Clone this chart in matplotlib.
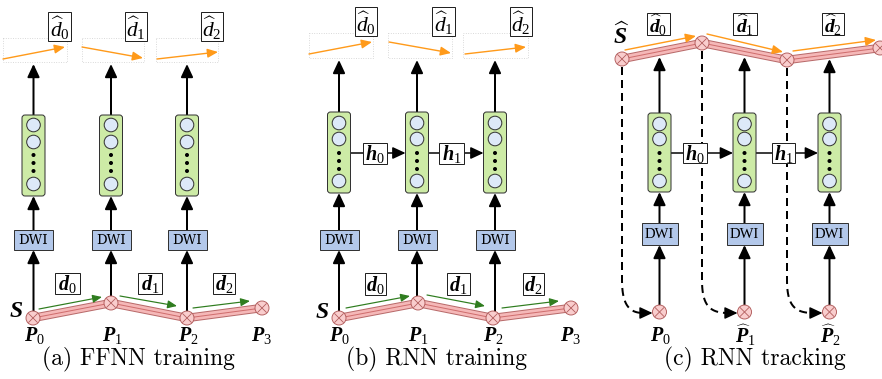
import matplotlib
matplotlib.use("Agg")
import matplotlib.pyplot as plt
from matplotlib.patches import Rectangle, FancyBboxPatch, Circle
import numpy as np

plt.rcParams['mathtext.fontset'] = 'custom'
plt.rcParams['mathtext.rm'] = 'Liberation Serif'
plt.rcParams['mathtext.it'] = 'Liberation Serif:italic'
plt.rcParams['mathtext.bf'] = 'Liberation Serif:bold:italic'

# ---------------- data / labels ----------------
captions = ["(a) FFNN training", "(b) RNN training", "(c) RNN tracking"]
caption_x = [138, 437, 755]
top_labels_ab = [r"$\widehat{d}_0$", r"$\widehat{d}_1$", r"$\widehat{d}_2$"]
top_labels_c = [r"$\widehat{\mathbf{d}}_0$", r"$\widehat{\mathbf{d}}_1$", r"$\widehat{\mathbf{d}}_2$"]
step_labels = [r"$\mathbf{d}_0$", r"$\mathbf{d}_1$", r"$\mathbf{d}_2$"]
point_labels = [r"$\mathbf{P}_0$", r"$\mathbf{P}_1$", r"$\mathbf{P}_2$", r"$\mathbf{P}_3$"]
point_labels_c = [r"$\mathbf{P}_0$", r"$\widehat{\mathbf{P}}_1$", r"$\widehat{\mathbf{P}}_2$"]
hidden_labels = [r"$\mathbf{h}_0$", r"$\mathbf{h}_1$"]

# layout (pixel coordinates)
cols_a = [33.5, 111, 187]
cols_b = [339, 417, 495]
cols_c = [659.5, 744.5, 829.5]
path_a_x = [33, 111, 187, 262]
path_a_y = [318, 303, 318, 308]
path_b_x = [339, 418, 493, 571]
path_b_y = [318, 303, 318, 308]
path_c_x = [622, 702, 787, 880]
path_c_y = [59, 43, 60, 48]

PINK_DARK = '#b86a6a'
PINK = '#f5b8b8'
GREEN_BOX = '#cdeba6'
BLUE_CIRC = '#dde9f8'
DWI_FILL = '#b3c8ea'
ORANGE = '#ff9a1a'
GREEN = '#2f7d1f'
EDGE = '#333333'

fig = plt.figure(figsize=(8.82, 3.79), dpi=100)
ax = fig.add_axes([0, 0, 1, 1])
ax.set_xlim(0, 882)
ax.set_ylim(379, 0)
ax.axis('off')

PX = 0.72  # points per pixel


def arrow(x0, y0, x1, y1, color='k', lw=2.0, hl=0.6, hw=0.28, ms=13, z=3):
    ax.annotate('', xy=(x1, y1), xytext=(x0, y0),
                arrowprops=dict(arrowstyle=f'-|>,head_length={hl},head_width={hw}',
                                color=color, lw=lw * PX, shrinkA=0, shrinkB=0,
                                mutation_scale=ms), zorder=z)


def nn_box(cx, y0, y1, w=23, circ_y=None, dot_y=None):
    box = FancyBboxPatch((cx - w / 2, y0), w, y1 - y0,
                         boxstyle='round,pad=0,rounding_size=3',
                         fc=GREEN_BOX, ec=EDGE, lw=1.0 * PX, zorder=4)
    ax.add_patch(box)
    for cy in circ_y:
        ax.add_patch(Circle((cx, cy), 6.8, fc=BLUE_CIRC, ec=EDGE, lw=1.0 * PX, zorder=5))
    for dy in dot_y:
        ax.add_patch(Circle((cx, dy), 2.0, fc='k', ec='none', zorder=5))


def text_box(cx, cy, x0, x1, y0, y1, s, fs=12, ec='#222222', fc='white', lw=1.0, family=None, z=6, **kw):
    ax.add_patch(Rectangle((x0, y0), x1 - x0, y1 - y0, fc=fc, ec=ec, lw=lw * PX, zorder=z))
    t = ax.text(cx, cy, s, fontsize=fs, ha='center', va='center', zorder=z + 1, **kw)
    if family:
        t.set_family(family)
    return t


def dwi(cx, y0, y1, w, fs, family):
    text_box(cx, (y0 + y1) / 2 + 0.5, cx - w / 2, cx + w / 2, y0, y1, 'DWI', fs=fs,
             fc=DWI_FILL, ec=EDGE, family=family)


def pink_path(xs, ys):
    ax.plot(xs, ys, color=PINK_DARK, lw=8.5 * PX, solid_joinstyle='miter', solid_capstyle='butt', zorder=2)
    ax.plot(xs, ys, color=PINK, lw=6.5 * PX, solid_joinstyle='miter', solid_capstyle='butt', zorder=2)
    ax.plot(xs, ys, color='#cf6e6e', lw=1.0 * PX, solid_joinstyle='miter', zorder=2)


def otimes(x, y, r=7.0):
    ax.add_patch(Circle((x, y), r, fc='#f9cdcd', ec='#b05a5a', lw=0.9 * PX, zorder=8))
    d = r * 0.62
    ax.plot([x - d, x + d], [y - d, y + d], color='#b05a5a', lw=0.8 * PX, zorder=9)
    ax.plot([x - d, x + d], [y + d, y - d], color='#b05a5a', lw=0.8 * PX, zorder=9)


def dotted_rect(x0, x1, y0, y1):
    ax.add_patch(Rectangle((x0, y0), x1 - x0, y1 - y0, fc='none', ec='#c8c8c8',
                           lw=0.8 * PX, ls=(0, (1, 2)), zorder=1))


# ---------------- panels (a) and (b) ----------------
panels_ab = [
    dict(cols=cols_a, px=path_a_x, py=path_a_y, nn=(115, 196), circ=(125, 142, 184), dots=(155, 163, 171),
         dwi=(230, 250), topTip=64,
         rects=[(3, 67), (82, 144), (156, 218)], rect_y=(38, 62),
         oranges=[((3, 59), (65, 47)), ((82, 47), (143, 58)), ((157, 59), (218, 52))],
         tops=[(48, 71), (125, 147), (201, 223)], top_y=(12, 41),
         greens=[((39, 309), (102, 297)), ((120, 296), (177, 306)), ((193, 308), (250, 301))],
         dboxes=[(55, 80), (138, 162), (213, 235)], dbox_y=(273, 294),
         S=(16, 310), plab_y=335, plab_x=[34, 112, 188, 262], rnn=False),
    dict(cols=cols_b, px=path_b_x, py=path_b_y, nn=(112, 193), circ=(123, 139, 181), dots=(153, 161, 169),
         dwi=(230, 250), topTip=60,
         rects=[(309, 373), (388, 452), (463, 528)], rect_y=(33, 58),
         oranges=[((309, 54), (372, 42)), ((389, 42), (451, 53)), ((465, 54), (526, 47))],
         tops=[(355, 377), (432, 455), (510, 532)], top_y=(7, 36),
         greens=[((346, 308), (410, 296)), ((427, 295), (485, 306)), ((502, 308), (559, 301))],
         dboxes=[(365, 386), (447, 470), (523, 544)], dbox_y=(273, 295),
         S=(322, 311), plab_y=335, plab_x=[339, 418, 493, 571], rnn=True),
]

for k, p in enumerate(panels_ab):
    cols = p['cols']
    for (x0, x1) in p['rects']:
        dotted_rect(x0, x1, *p['rect_y'])
    for (s, e) in p['oranges']:
        arrow(s[0], s[1], e[0], e[1], color=ORANGE, lw=1.4, hl=0.7, hw=0.3, ms=9)
    for i, (x0, x1) in enumerate(p['tops']):
        y0, y1 = p['top_y']
        text_box((x0 + x1) / 2, (y0 + y1) / 2 + 1.5, x0, x1, y0, y1, top_labels_ab[i], fs=15.5)
    for i, cx in enumerate(cols):
        nn_box(cx, p['nn'][0], p['nn'][1], circ_y=p['circ'], dot_y=p['dots'])
        arrow(cx, p['nn'][0], cx, p['topTip'])
        arrow(cx, p['dwi'][0], cx, p['nn'][1])
        dwi(cx, p['dwi'][0], p['dwi'][1], 39, 9.5, 'DejaVu Serif')
        arrow(cx, p['py'][i], cx, p['dwi'][1])
    if p['rnn']:
        hy = (p['nn'][0] + p['nn'][1]) / 2 + 0.5
        hb = [(363, 387), (439, 464)]
        for i in range(2):
            x0, x1 = hb[i]
            ax.plot([cols[i] + 11.5, x0], [hy, hy], color='k', lw=1.5 * PX, zorder=3)
            arrow(x1, hy, cols[i + 1] - 11.5, hy, lw=1.5)
            text_box((x0 + x1) / 2, hy + 1, x0, x1, hy - 10.5, hy + 10.5, hidden_labels[i], fs=14.5)
    pink_path(p['px'], p['py'])
    for (s, e) in p['greens']:
        arrow(s[0], s[1], e[0], e[1], color=GREEN, lw=1.2, hl=0.7, hw=0.3, ms=8)
    for i, (x0, x1) in enumerate(p['dboxes']):
        y0, y1 = p['dbox_y']
        text_box((x0 + x1) / 2, (y0 + y1) / 2 + 0.5, x0, x1, y0, y1, step_labels[i], fs=14.5)
    for x, y in zip(p['px'], p['py']):
        otimes(x, y)
    ax.text(p['S'][0], p['S'][1], r"$\mathbf{S}$", fontsize=17, ha='center', va='center')
    for i, x in enumerate(p['plab_x']):
        ax.text(x, p['plab_y'], point_labels[i], fontsize=14.5, ha='center', va='center')

# ---------------- panel (c) ----------------
nn_c = (113, 192)
circ_c = (124, 139, 181)
dots_c = (153, 161, 169)
dwi_c = (223, 245)
pc_y = 312
tips_c = [57, 57, 59]
pink_path(path_c_x, path_c_y)
oranges_c = [((625, 50), (696, 36)), ((707, 34), (783, 52)), ((793, 51), (876, 40))]
for (s, e) in oranges_c:
    arrow(s[0], s[1], e[0], e[1], color=ORANGE, lw=1.4, hl=0.7, hw=0.3, ms=9)
tops_c = [(647, 670), (733, 757), (822, 844)]
for i, (x0, x1) in enumerate(tops_c):
    text_box((x0 + x1) / 2, 25, x0, x1, 13, 35, top_labels_c[i], fs=14)
for x, y in zip(path_c_x, path_c_y):
    otimes(x, y)
ax.text(621, 36, r"$\widehat{\mathbf{S}}$", fontsize=17, ha='center', va='center')

for i, cx in enumerate(cols_c):
    nn_box(cx, nn_c[0], nn_c[1], circ_y=circ_c, dot_y=dots_c)
    arrow(cx, nn_c[0], cx, tips_c[i])
    arrow(cx, dwi_c[0], cx, nn_c[1])
    dwi(cx, dwi_c[0], dwi_c[1], 36, 10.5, 'Liberation Serif')
    arrow(cx, pc_y, cx, dwi_c[1])
    otimes(cx, pc_y)
    ax.text(cx + 1, 335, point_labels_c[i], fontsize=14.5, ha='center', va='center')

hy = 153
hb_c = [(683, 707), (772, 795)]
for i in range(2):
    x0, x1 = hb_c[i]
    ax.plot([cols_c[i] + 11.5, x0], [hy, hy], color='k', lw=1.5 * PX, zorder=3)
    arrow(x1, hy, cols_c[i + 1] - 11.5, hy, lw=1.5)
    text_box((x0 + x1) / 2, hy + 1, x0, x1, hy - 10, hy + 10, hidden_labels[i], fs=14.5)

# dashed feedback arrows
dash_starts = [(622, 67), (702, 51), (787, 68)]
for i, (sx, sy) in enumerate(dash_starts):
    tx = cols_c[i] - 7
    t = np.linspace(0, 1, 40)
    p0 = np.array([sx, 280.0]); c1 = np.array([sx, 306.0]); c2 = np.array([sx + 8, 313.0]); p3 = np.array([tx - 9, 313.0])
    bz = ((1 - t)[:, None] ** 3 * p0 + 3 * (1 - t)[:, None] ** 2 * t[:, None] * c1
          + 3 * (1 - t)[:, None] * t[:, None] ** 2 * c2 + t[:, None] ** 3 * p3)
    xs = np.concatenate([[sx], bz[:, 0]])
    ys = np.concatenate([[sy], bz[:, 1]])
    ax.plot(xs, ys, color='k', lw=2.0 * PX, ls=(0, (4, 2.5)), zorder=3)
    arrow(tx - 10, 313, tx, 313, lw=1.4, ms=13)

# captions
for s, x in zip(captions, caption_x):
    ax.text(x, 359, s, fontsize=17, family='cmr10', ha='center', va='center')

fig.savefig('out.png', dpi=100)
